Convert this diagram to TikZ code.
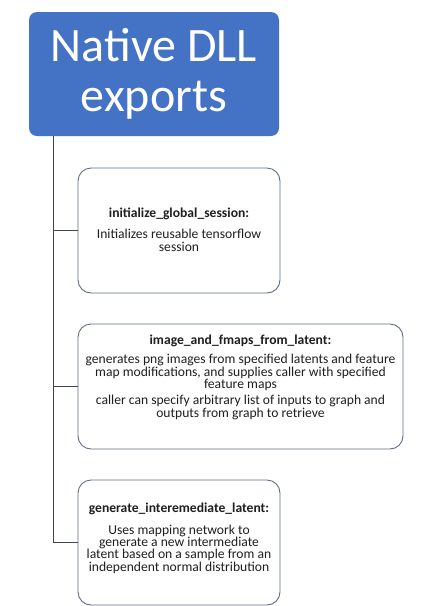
\documentclass[tikz,border=0pt]{standalone}
\usepackage{fontspec}
\setmainfont{Carlito}
\definecolor{titleblue}{HTML}{4472C4}
\definecolor{linegray}{HTML}{3F4450}
\definecolor{boxborder}{HTML}{5E6E82}
\newcommand{\mytight}{\lineskiplimit=-20pt\relax}
\begin{document}
\begin{tikzpicture}[x=1pt,y=-1pt,
  titlebox/.style={fill=titleblue,draw=none,rounded corners=8pt,inner sep=0pt},
  itembox/.style={draw=boxborder,line width=0.9pt,rounded corners=13pt,fill=white,inner sep=0pt},
  conn/.style={draw=linegray,line width=1pt},
  itemtext/.style={align=center,inner sep=0pt,anchor=base,font={\fontsize{13.6}{12.3}\selectfont\mytight},text=black!88}]
\useasboundingbox (0,0) rectangle (432,606);
% title
\node[titlebox,minimum width=250pt,minimum height=124pt] (root) at (154,74) {};
\node[text=white,align=center,inner sep=0pt,anchor=base,font={\fontsize{48}{50}\selectfont\mytight}] (roottext) at (154,111.7) {Native DLL\\exports};
% item boxes
\node[itembox,minimum width=202pt,minimum height=125pt] (b1) at (179,230.5) {};
\node[itembox,minimum width=325pt,minimum height=125pt] (b2) at (240.5,386.5) {};
\node[itembox,minimum width=202pt,minimum height=125pt] (b3) at (179,542.5) {};
% texts
\node[itemtext] (t1) at (179,251) {\textbf{initialize\_global\_session:}\\[8.5pt]Initializes reusable tensorflow\\session};
\node[itemtext] (t2) at (240.5,417) {\textbf{image\_and\_fmaps\_from\_latent:}\\[7pt]generates png images from specified latents and feature\\map modifications, and supplies caller with specified\\feature maps\\[4pt]caller can specify arbitrary list of inputs to graph and\\outputs from graph to retrieve};
\node[itemtext] (t3) at (179,571) {\textbf{generate\_interemediate\_latent:}\\[9.5pt]Uses mapping network to\\generate a new intermediate\\latent based on a sample from an\\independent normal distribution};
% connectors
\coordinate (trunk) at (53,0);
\coordinate (j1) at (trunk |- b1.west);
\coordinate (j2) at (trunk |- b2.west);
\coordinate (j3) at (trunk |- b3.west);
\draw[conn] (trunk |- root.south) -- (j3) -- (b3.west);
\draw[conn] (j1) -- (b1.west);
\draw[conn] (j2) -- (b2.west);
\end{tikzpicture}
\end{document}
